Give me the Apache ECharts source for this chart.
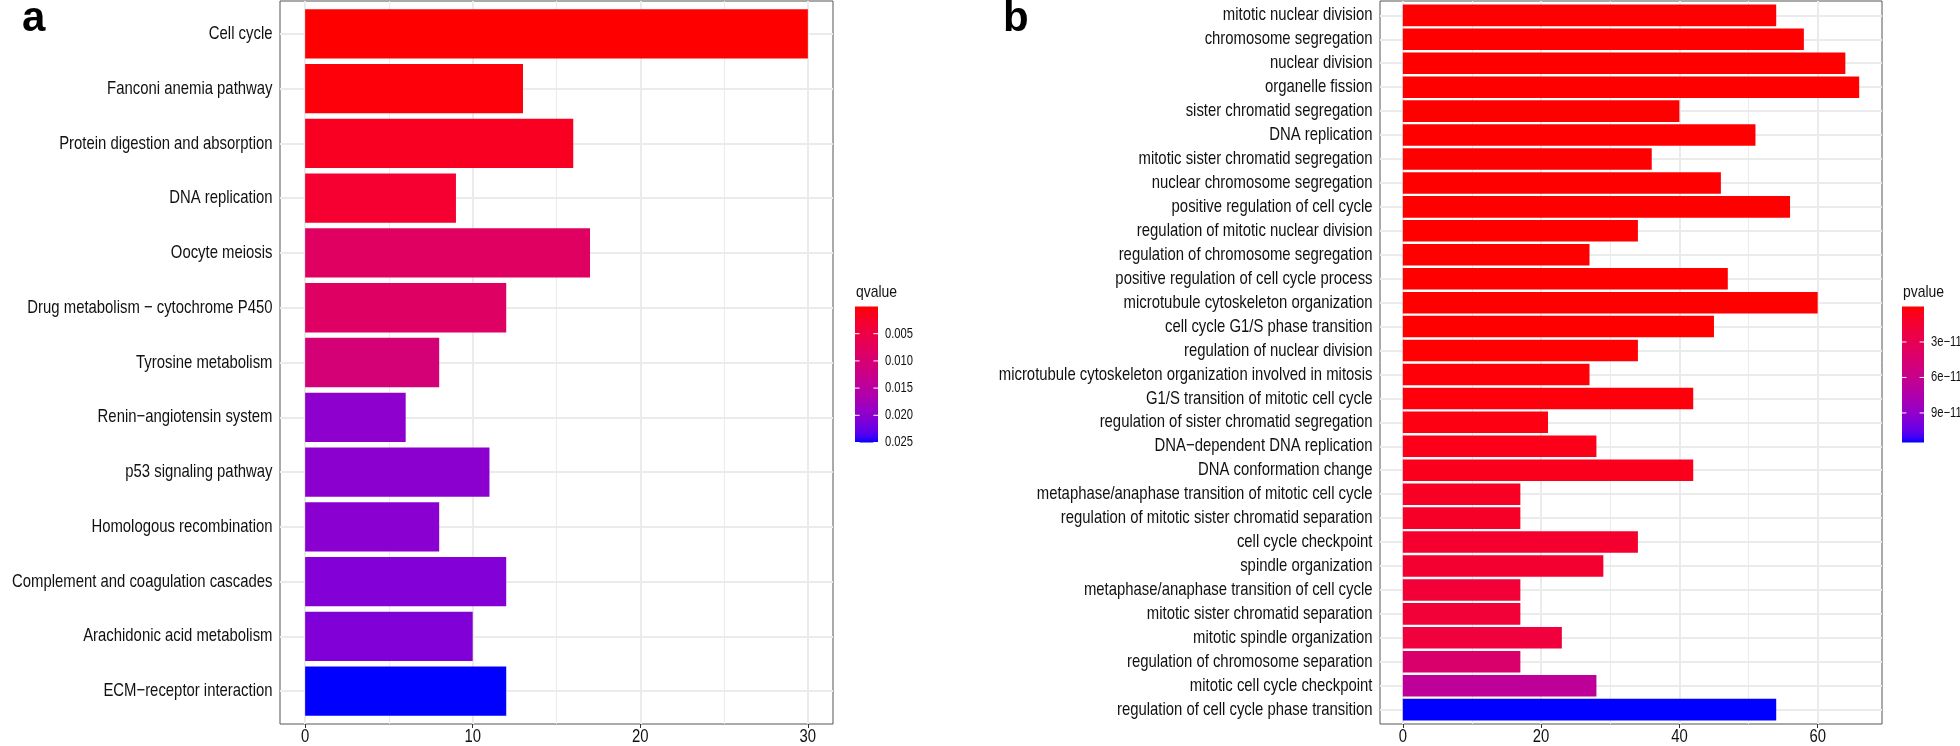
<!DOCTYPE html>
<html><head><meta charset="utf-8">
<script src="https://cdn.jsdelivr.net/npm/echarts@6/dist/echarts.min.js"></script>
<style>html,body{margin:0;padding:0;background:#fff}#c{width:1960px;height:746px}</style>
</head><body><div id="c"></div>
<script>
// ---------------- DATA ----------------
const keggTerms = ['Cell cycle','Fanconi anemia pathway','Protein digestion and absorption','DNA replication','Oocyte meiosis','Drug metabolism − cytochrome P450','Tyrosine metabolism','Renin−angiotensin system','p53 signaling pathway','Homologous recombination','Complement and coagulation cascades','Arachidonic acid metabolism','ECM−receptor interaction'];
const keggCounts = [30,13,16,9,17,12,8,6,11,8,12,10,12];
const keggQvalues = [2e-7,4e-4,1.8e-3,3.0e-3,8.2e-3,8.4e-3,1.05e-2,2.00e-2,2.01e-2,2.02e-2,2.08e-2,2.09e-2,2.50e-2];
const keggXTicks = [0,10,20,30];
const keggXMinor = [5,15,25];
const qvalueTicks = [0.005,0.010,0.015,0.020,0.025];
const qvalueTickLabels = ['0.005','0.010','0.015','0.020','0.025'];

const goTerms = ['mitotic nuclear division','chromosome segregation','nuclear division','organelle fission','sister chromatid segregation','DNA replication','mitotic sister chromatid segregation','nuclear chromosome segregation','positive regulation of cell cycle','regulation of mitotic nuclear division','regulation of chromosome segregation','positive regulation of cell cycle process','microtubule cytoskeleton organization','cell cycle G1/S phase transition','regulation of nuclear division','microtubule cytoskeleton organization involved in mitosis','G1/S transition of mitotic cell cycle','regulation of sister chromatid segregation','DNA−dependent DNA replication','DNA conformation change','metaphase/anaphase transition of mitotic cell cycle','regulation of mitotic sister chromatid separation','cell cycle checkpoint','spindle organization','metaphase/anaphase transition of cell cycle','mitotic sister chromatid separation','mitotic spindle organization','regulation of chromosome separation','mitotic cell cycle checkpoint','regulation of cell cycle phase transition'];
const goCounts = [54,58,64,66,40,51,36,46,56,34,27,47,60,45,34,27,42,21,28,42,17,17,34,29,17,17,23,17,28,54];
const goPvalues = [1.2e-19,3.5e-19,8.1e-19,2.4e-18,9.6e-18,2.8e-17,6.3e-17,2.2e-16,8.7e-16,3.1e-15,9.5e-15,2.6e-14,7.8e-14,2.1e-13,5.4e-13,1.3e-12,2.2e-12,3.4e-12,5.0e-12,6.5e-12,9.8e-12,1.05e-11,1.3e-11,1.4e-11,1.7e-11,1.75e-11,2.0e-11,4.3e-11,6.6e-11,1.15e-10];
const goXTicks = [0,20,40,60];
const goXMinor = [10,30,50];
const pvalueTicks = [3e-11,6e-11,9e-11];
const pvalueTickLabels = ['3e−11','6e−11','9e−11'];

// ---------------- COLOUR (Lab interpolation red -> blue, like ggplot) ----------------
function s2l(c){c/=255;return c<=0.04045?c/12.92:Math.pow((c+0.055)/1.055,2.4);}
function l2s(c){c=Math.max(0,Math.min(1,c));return c<=0.0031308?12.92*c:1.055*Math.pow(c,1/2.4)-0.055;}
function rgb2lab(rgb){const R=s2l(rgb[0]),G=s2l(rgb[1]),B=s2l(rgb[2]);
 let X=(0.4124564*R+0.3575761*G+0.1804375*B)/0.95047,Y=0.2126729*R+0.7151522*G+0.0721750*B,Z=(0.0193339*R+0.1191920*G+0.9503041*B)/1.08883;
 const f=t=>t>0.008856?Math.cbrt(t):7.787*t+16/116;const fx=f(X),fy=f(Y),fz=f(Z);
 return [116*fy-16,500*(fx-fy),200*(fy-fz)];}
function lab2rgb(lab){const fy=(lab[0]+16)/116,fx=fy+lab[1]/500,fz=fy-lab[2]/200;
 const fi=t=>t*t*t>0.008856?t*t*t:(t-16/116)/7.787;
 const X=fi(fx)*0.95047,Y=fi(fy),Z=fi(fz)*1.08883;
 const R=3.2404542*X-1.5371385*Y-0.4985314*Z,G=-0.9692660*X+1.8760108*Y+0.0415560*Z,B=0.0556434*X-0.2040259*Y+1.0572252*Z;
 return 'rgb('+[R,G,B].map(c=>Math.round(l2s(c)*255)).join(',')+')';}
const LAB_LOW=rgb2lab([255,0,0]),LAB_HIGH=rgb2lab([0,0,255]);
function ramp(t){t=Math.max(0,Math.min(1,t));return lab2rgb(LAB_LOW.map((v,i)=>v+(LAB_HIGH[i]-v)*t));}

// ---------------- LAYOUT ----------------
const FONT='"Liberation Sans",Arial,sans-serif';
const NARROW=0.8;   // the reference uses a condensed face
const TXT='#111';
const panels=[
 {terms:keggTerms,counts:keggCounts,cv:keggQvalues,ticks:keggXTicks,minor:keggXMinor,left:280,right:833,top:1,bottom:724},
 {terms:goTerms,counts:goCounts,cv:goPvalues,ticks:goXTicks,minor:goXMinor,left:1380,right:1882,top:1,bottom:724}
];
const grid=[],xAxis=[],yAxis=[],series=[];
panels.forEach((p,k)=>{
 const mx=Math.max(...p.counts);const xmin=-0.05*mx,xmax=1.05*mx;
 const n=p.terms.length;const band=(p.bottom-p.top)/(n+0.2);const inset=0.1*band;
 const cmin=Math.min(...p.cv),cmax=Math.max(...p.cv);
 grid.push({left:p.left,width:p.right-p.left,top:p.top,height:p.bottom-p.top,show:true,borderColor:'#555',borderWidth:1,backgroundColor:'transparent',containLabel:false,outerBoundsMode:'none'});
 grid.push({left:p.left,width:p.right-p.left,top:p.top+inset,height:p.bottom-p.top-2*inset,show:false,containLabel:false,outerBoundsMode:'none'});
 const gf=2*k,gb=2*k+1;
 p.gf=gf;p.gb=gb;
 xAxis.push({gridIndex:gf,type:'value',min:xmin,max:xmax,position:'bottom',
  axisLine:{show:false},splitLine:{show:false},
  axisTick:{show:true,customValues:p.ticks,length:4,lineStyle:{color:'#333',width:1}},
  axisLabel:{show:false}});
 yAxis.push({gridIndex:gf,type:'value',min:0,max:1,show:false});
 xAxis.push({gridIndex:gb,type:'value',min:xmin,max:xmax,show:false,splitLine:{show:false}});
 yAxis.push({gridIndex:gb,type:'category',data:p.terms,inverse:true,
  axisLine:{show:false},splitLine:{show:false},
  axisTick:{show:true,alignWithLabel:true,length:4.5,lineStyle:{color:'#333',width:1}},
  axisLabel:{show:false}});
 const gls=(w)=>({color:'#EBEBEB',width:w,type:'solid'});
 series.push({type:'line',xAxisIndex:gf,yAxisIndex:gf,data:[],z:1,silent:true,
  markLine:{z:1,silent:true,symbol:['none','none'],label:{show:false},animation:false,
   data:p.ticks.map(v=>({xAxis:v,lineStyle:gls(2)})).concat(p.minor.map(v=>({xAxis:v,lineStyle:gls(1)})))}});
 series.push({type:'line',xAxisIndex:gb,yAxisIndex:gb,data:[],z:1,silent:true,
  markLine:{z:1,silent:true,symbol:['none','none'],label:{show:false},animation:false,
   data:p.terms.map((t,i)=>({yAxis:i,lineStyle:gls(2)}))}});
 series.push({type:'bar',xAxisIndex:gb,yAxisIndex:gb,z:3,barCategoryGap:'10%',silent:true,
  data:p.counts.map((v,i)=>({value:v,itemStyle:{color:ramp((p.cv[i]-cmin)/(cmax-cmin))}}))});
});

const chart=echarts.init(document.getElementById('c'),null,{renderer:'canvas'});
chart.setOption({animation:false,backgroundColor:'#fff',grid,xAxis,yAxis,series});

// ---------------- TEXT (condensed via scaleX, placed through the axes) ----------------
function ntext(x,y,text,size,align,sx){
 return {type:'text',x:x,y:y,scaleX:sx||NARROW,silent:true,
  style:{text:text,fontSize:size,fontFamily:FONT,fill:TXT,align:align,verticalAlign:'middle'}};
}
const graphic=[];
panels.forEach(p=>{
 p.terms.forEach((t,i)=>{
  const y=chart.convertToPixel({yAxisIndex:p.gb},i);
  graphic.push(ntext(p.left-7.5,y,t,18.6,'right'));
 });
 p.ticks.forEach(v=>{
  const x=chart.convertToPixel({xAxisIndex:p.gf},v);
  graphic.push(ntext(x,p.bottom+13,String(v),18.6,'center'));
 });
});
function colourbar(x,y,w,h,title,vmin,vmax,ticks,labels){
 const stops=[];for(let i=0;i<=24;i++){stops.push({offset:i/24,color:ramp(i/24)});}
 const els=[ntext(x+1,y-14,title,17,'left',0.82),
  {type:'rect',silent:true,shape:{x:x,y:y,width:w,height:h},style:{fill:new echarts.graphic.LinearGradient(0,0,0,1,stops)}}];
 ticks.forEach((v,i)=>{const ty=y+(v-vmin)/(vmax-vmin)*h;
  els.push({type:'line',silent:true,shape:{x1:x,y1:ty,x2:x+w/5,y2:ty},style:{stroke:'#fff',lineWidth:1}});
  els.push({type:'line',silent:true,shape:{x1:x+w*4/5,y1:ty,x2:x+w,y2:ty},style:{stroke:'#fff',lineWidth:1}});
  els.push(ntext(x+w+7,ty,labels[i],14,'left'));
 });
 return els;
}
graphic.push(...colourbar(855,306.5,23,136,'qvalue',Math.min(...keggQvalues),Math.max(...keggQvalues),qvalueTicks,qvalueTickLabels));
graphic.push(...colourbar(1902,306.5,22,136,'pvalue',Math.min(...goPvalues),Math.max(...goPvalues),pvalueTicks,pvalueTickLabels));
graphic.push({type:'text',x:22,y:19,silent:true,style:{text:'a',fontSize:42,fontWeight:'bold',fontFamily:FONT,fill:'#000',verticalAlign:'middle'}});
graphic.push({type:'text',x:1003,y:19,silent:true,style:{text:'b',fontSize:42,fontWeight:'bold',fontFamily:FONT,fill:'#000',verticalAlign:'middle'}});
chart.setOption({graphic:graphic});
</script></body></html>
